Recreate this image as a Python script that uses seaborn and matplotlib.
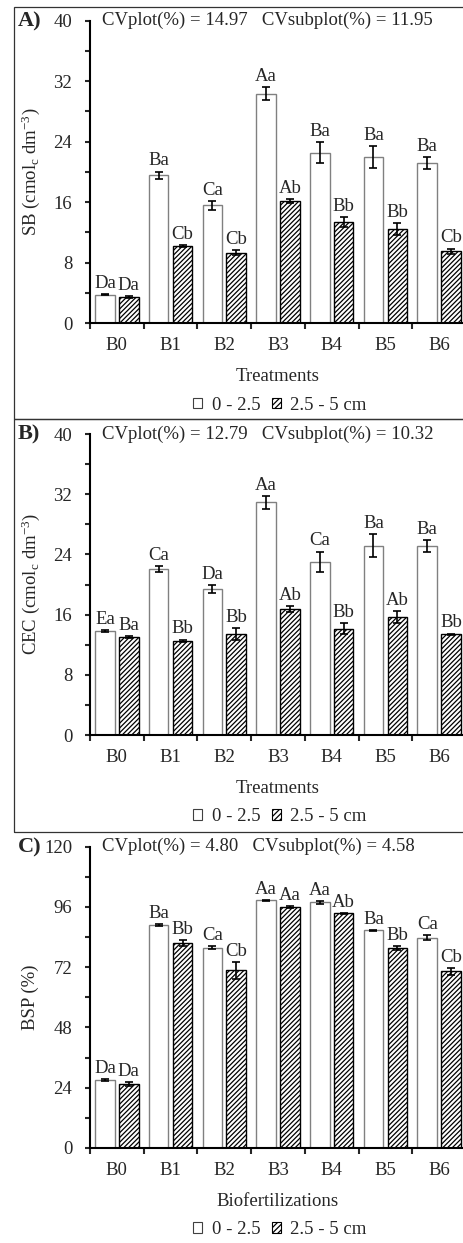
import matplotlib
matplotlib.use('Agg')
import matplotlib.pyplot as plt
import seaborn as sns
import pandas as pd
from matplotlib.patches import Patch, Rectangle
from matplotlib.ticker import MultipleLocator, FixedLocator, NullFormatter

sns.set_style('white')
plt.rcParams['font.family'] = ['Liberation Serif', 'DejaVu Serif']
plt.rcParams['mathtext.fontset'] = 'custom'
plt.rcParams['mathtext.rm'] = 'Liberation Serif'
plt.rcParams['mathtext.default'] = 'regular'
plt.rcParams['hatch.linewidth'] = 0.9

treatments = ['B0', 'B1', 'B2', 'B3', 'B4', 'B5', 'B6']
depths = ['0 - 2.5', '2.5 - 5 cm']

# A) SB
sb_top = [3.74, 19.56, 15.55, 30.35, 22.55, 21.94, 21.15]
sb_sub = [3.44, 10.2, 9.3, 16.12, 13.3, 12.42, 9.52]
sb_top_err = [0.1, 0.48, 0.55, 0.88, 1.43, 1.43, 0.8]
sb_sub_err = [0.15, 0.1, 0.3, 0.28, 0.66, 0.8, 0.33]
sb_top_let = ['Da', 'Ba', 'Ca', 'Aa', 'Ba', 'Ba', 'Ba']
sb_sub_let = ['Da', 'Cb', 'Cb', 'Ab', 'Bb', 'Bb', 'Cb']

# B) CEC
cec_top = [13.78, 22.06, 19.36, 30.92, 23.03, 25.16, 25.16]
cec_sub = [12.98, 12.54, 13.38, 16.79, 14.09, 15.64, 13.38]
cec_top_err = [0.15, 0.44, 0.53, 0.84, 1.35, 1.5, 0.8]
cec_sub_err = [0.12, 0.15, 0.82, 0.4, 0.73, 0.78, 0.1]
cec_top_let = ['Ea', 'Ca', 'Da', 'Aa', 'Ca', 'Ba', 'Ba']
cec_sub_let = ['Ba', 'Bb', 'Bb', 'Ab', 'Bb', 'Ab', 'Bb']

# C) BSP
bsp_top = [26.96, 88.8, 79.8, 98.6, 97.8, 86.7, 83.8]
bsp_sub = [25.64, 81.67, 70.7, 96.07, 93.43, 79.55, 70.4]
bsp_top_err = [0.4, 0.3, 0.66, 0.2, 0.66, 0.2, 0.86]
bsp_sub_err = [0.8, 1.06, 3.3, 0.3, 0.3, 0.8, 1.3]
bsp_top_let = ['Da', 'Ba', 'Ca', 'Aa', 'Aa', 'Ba', 'Ca']
bsp_sub_let = ['Da', 'Bb', 'Cb', 'Aa', 'Ab', 'Bb', 'Cb']

W, H = 463, 1243
FS = 13.5


def draw_panel(ax, top, sub, top_err, sub_err, top_let, sub_let, ymax, ystep,
               ylabel, xlabel, cv_text):
    df = pd.DataFrame({'Treatment': treatments * 2,
                       'Depth': [depths[0]] * 7 + [depths[1]] * 7,
                       'Value': top + sub})
    sns.barplot(data=df, x='Treatment', y='Value', hue='Depth',
                palette=['white', 'white'], saturation=1, width=0.89, gap=0.18,
                errorbar=None, legend=False, ax=ax)
    errs = [top_err, sub_err]
    lets = [top_let, sub_let]
    bar_sets = list(ax.containers[:2])
    for i, cont in enumerate(bar_sets):
        for bar, e, lab in zip(cont, errs[i], lets[i]):
            if i == 0:
                bar.set_edgecolor('#808080')
            else:
                bar.set_edgecolor('black')
                bar.set_hatch('///////')
            bar.set_linewidth(1.0)
            x = bar.get_x() + bar.get_width() / 2
            h = bar.get_height()
            ax.errorbar(x, h, yerr=e, color='black', capsize=2.6,
                        elinewidth=1.2, capthick=1.2)
            ax.annotate(lab, (x, h + e), xytext=(0, 1.5), textcoords='offset points',
                        ha='center', va='bottom', fontsize=FS)

    ax.set_xlim(-0.5, 6.5)
    ax.set_ylim(0, ymax)
    ax.yaxis.set_major_locator(MultipleLocator(ystep))
    ax.yaxis.set_minor_locator(MultipleLocator(ystep / 2))
    ax.xaxis.set_minor_locator(FixedLocator([i - 0.5 for i in range(8)]))
    ax.xaxis.set_minor_formatter(NullFormatter())
    ax.tick_params(axis='x', which='major', length=0, pad=10, labelsize=FS)
    ax.tick_params(axis='x', which='minor', length=4, width=1.5, direction='out', bottom=True)
    ax.tick_params(axis='y', which='both', length=3.8, width=1.5, direction='out',
                   left=True, pad=9, labelsize=FS)
    for s in ['top', 'right']:
        ax.spines[s].set_visible(False)
    for s in ['left', 'bottom']:
        ax.spines[s].set_linewidth(1.5)
        ax.spines[s].set_color('black')
    ax.set_ylabel(ylabel, fontsize=FS)
    ax.yaxis.set_label_coords(-0.158, 0.5)
    ax.yaxis.label.set_va('center')
    ax.set_xlabel(xlabel, fontsize=FS)
    ax.xaxis.set_label_coords(0.5, -0.178)
    ax.xaxis.label.set_va('center')
    ax.text(0.032, 1.0, cv_text, transform=ax.transAxes, ha='left', va='center', fontsize=FS)

    handles = [Patch(facecolor='white', edgecolor='#404040', linewidth=0.8),
               Patch(facecolor='white', edgecolor='black', hatch='//////', linewidth=0.8)]
    ax.legend(handles, depths, loc='center', bbox_to_anchor=(0.505, -0.272), ncol=2,
              frameon=False, fontsize=FS, handlelength=0.5, handleheight=0.5,
              handletextpad=0.5, columnspacing=0.6)


fig = plt.figure(figsize=(W / 100, H / 100), dpi=100)


def add_axes(top_px, bottom_px):
    return fig.add_axes([90 / W, 1 - bottom_px / H, 376 / W, (bottom_px - top_px) / H])


axA = add_axes(20.7, 323)
axB = add_axes(434, 735)
axC = add_axes(846.7, 1148)

draw_panel(axA, sb_top, sb_sub, sb_top_err, sb_sub_err, sb_top_let, sb_sub_let, 40, 8,
           'SB (cmol$_c$ dm$^{-3}$)', 'Treatments',
           'CVplot(%) = 14.97   CVsubplot(%) = 11.95')
draw_panel(axB, cec_top, cec_sub, cec_top_err, cec_sub_err, cec_top_let, cec_sub_let, 40, 8,
           'CEC (cmol$_c$ dm$^{-3}$)', 'Treatments',
           'CVplot(%) = 12.79   CVsubplot(%) = 10.32')
draw_panel(axC, bsp_top, bsp_sub, bsp_top_err, bsp_sub_err, bsp_top_let, bsp_sub_let, 120, 24,
           'BSP (%)', 'Biofertilizations',
           'CVplot(%) = 4.80   CVsubplot(%) = 4.58')

# panel letters
for lab, y in [('A)', 21.5), ('B)', 434.5), ('C)', 847)]:
    fig.text(18 / W, 1 - y / H, lab, ha='left', va='center', fontsize=16, fontweight='bold')

# panel frames
for top_px, bot_px in [(7, 419), (419, 832)]:
    fig.patches.append(Rectangle((14 / W, 1 - bot_px / H), 1.0, (bot_px - top_px) / H,
                                 transform=fig.transFigure, fill=False,
                                 edgecolor='#333333', linewidth=0.9, zorder=0))

fig.savefig('out.png', dpi=100)
